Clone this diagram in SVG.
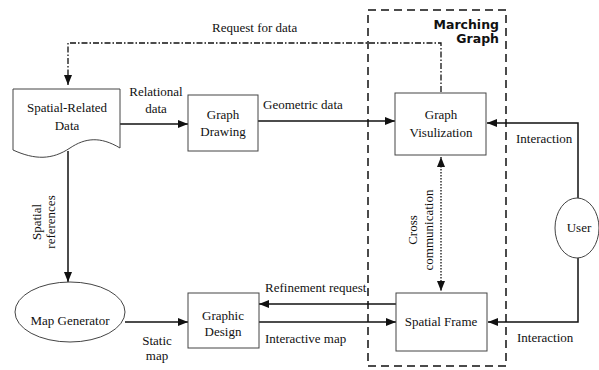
<svg xmlns="http://www.w3.org/2000/svg" width="599" height="370" viewBox="0 0 599 370">
<style>
.t{font-family:"Liberation Serif","Times New Roman",serif;font-size:13px;fill:#111}
.c{text-anchor:middle}
.b{font-family:"DejaVu Sans",Verdana,sans-serif;font-weight:bold;font-size:12.5px;text-anchor:end;fill:#111}
.n{fill:#fff;stroke:#444;stroke-width:1}
.e{fill:none;stroke:#111;stroke-width:1.5}
.d{fill:none;stroke:#111;stroke-width:1.3;stroke-dasharray:6 2 1.5 2}
.o{fill:none;stroke:#111;stroke-width:1.3;stroke-dasharray:1.5 1.5}
</style>
<defs>
<marker id="a" viewBox="0 0 10 8" refX="10" refY="4" markerWidth="10" markerHeight="8" markerUnits="userSpaceOnUse" orient="auto-start-reverse">
<path d="M0,0 L10,4 L0,8 Z" fill="#111"/>
</marker>
</defs>
<rect x="368" y="10" width="138" height="356" fill="none" stroke="#111" stroke-width="1.5" stroke-dasharray="8 5"/>
<text class="b" x="499" y="29">Marching</text>
<text class="b" x="499" y="43">Graph</text>
<g id="connectors">
<path class="d" d="M441,92 V43 H68 V85" marker-end="url(#a)"/>
<path class="e" d="M120,124 H188" marker-end="url(#a)"/>
<path class="e" d="M258,121 H395" marker-end="url(#a)"/>
<path class="e" d="M68,151 V282" marker-end="url(#a)"/>
<path class="e" d="M125,322 H188" marker-end="url(#a)"/>
<path class="e" d="M396,304 H259" marker-end="url(#a)"/>
<path class="e" d="M259,322 H396" marker-end="url(#a)"/>
<path class="o" d="M441,157 V291" marker-start="url(#a)" marker-end="url(#a)"/>
<path class="e" d="M578,198 V123 H487" marker-end="url(#a)"/>
<path class="e" d="M578,258 V322 H488" marker-end="url(#a)"/>
</g>
<g id="spatial-data">
<path class="n" d="M13,89 H120 V148 C100,136 85,138 70,148 C52,160 35,160 13,150 Z"/>
<text class="t c" x="67" y="112">Spatial-Related</text>
<text class="t c" x="67" y="130">Data</text>
</g>
<g id="graph-drawing">
<rect class="n" x="188" y="95" width="70" height="56"/>
<text class="t c" x="223" y="119">Graph</text>
<text class="t c" x="223" y="136">Drawing</text>
</g>
<g id="graph-visualization">
<rect class="n" x="395" y="93" width="91" height="62"/>
<text class="t c" x="441" y="119">Graph</text>
<text class="t c" x="441" y="137">Visulization</text>
</g>
<g id="spatial-frame">
<rect class="n" x="396" y="293" width="91" height="58"/>
<text class="t c" x="441" y="326">Spatial Frame</text>
</g>
<g id="graphic-design">
<rect class="n" x="188" y="293" width="71" height="55"/>
<text class="t c" x="223" y="320">Graphic</text>
<text class="t c" x="223" y="336">Design</text>
</g>
<g id="map-generator">
<ellipse class="n" cx="70" cy="312" rx="55" ry="30"/>
<text class="t c" x="70" y="325">Map Generator</text>
</g>
<g id="user">
<ellipse class="n" cx="577" cy="228" rx="22" ry="30"/>
<text class="t c" x="579" y="232">User</text>
</g>
<g id="labels">
<text class="t" x="212" y="32">Request for data</text>
<text class="t c" x="156" y="96">Relational</text>
<text class="t c" x="156" y="113">data</text>
<text class="t" x="263" y="109">Geometric data</text>
<text class="t" x="516" y="143">Interaction</text>
<text class="t" x="517" y="342">Interaction</text>
<text class="t" x="265" y="292">Refinement request</text>
<text class="t" x="265" y="343">Interactive map</text>
<text class="t c" x="157" y="345">Static</text>
<text class="t c" x="157" y="360">map</text>
<text class="t c" transform="translate(41,222) rotate(-90)">Spatial</text>
<text class="t c" transform="translate(55,222) rotate(-90)">references</text>
<text class="t c" transform="translate(417,230) rotate(-90)">Cross</text>
<text class="t c" transform="translate(433,230) rotate(-90)">communication</text>
</g>
</svg>
